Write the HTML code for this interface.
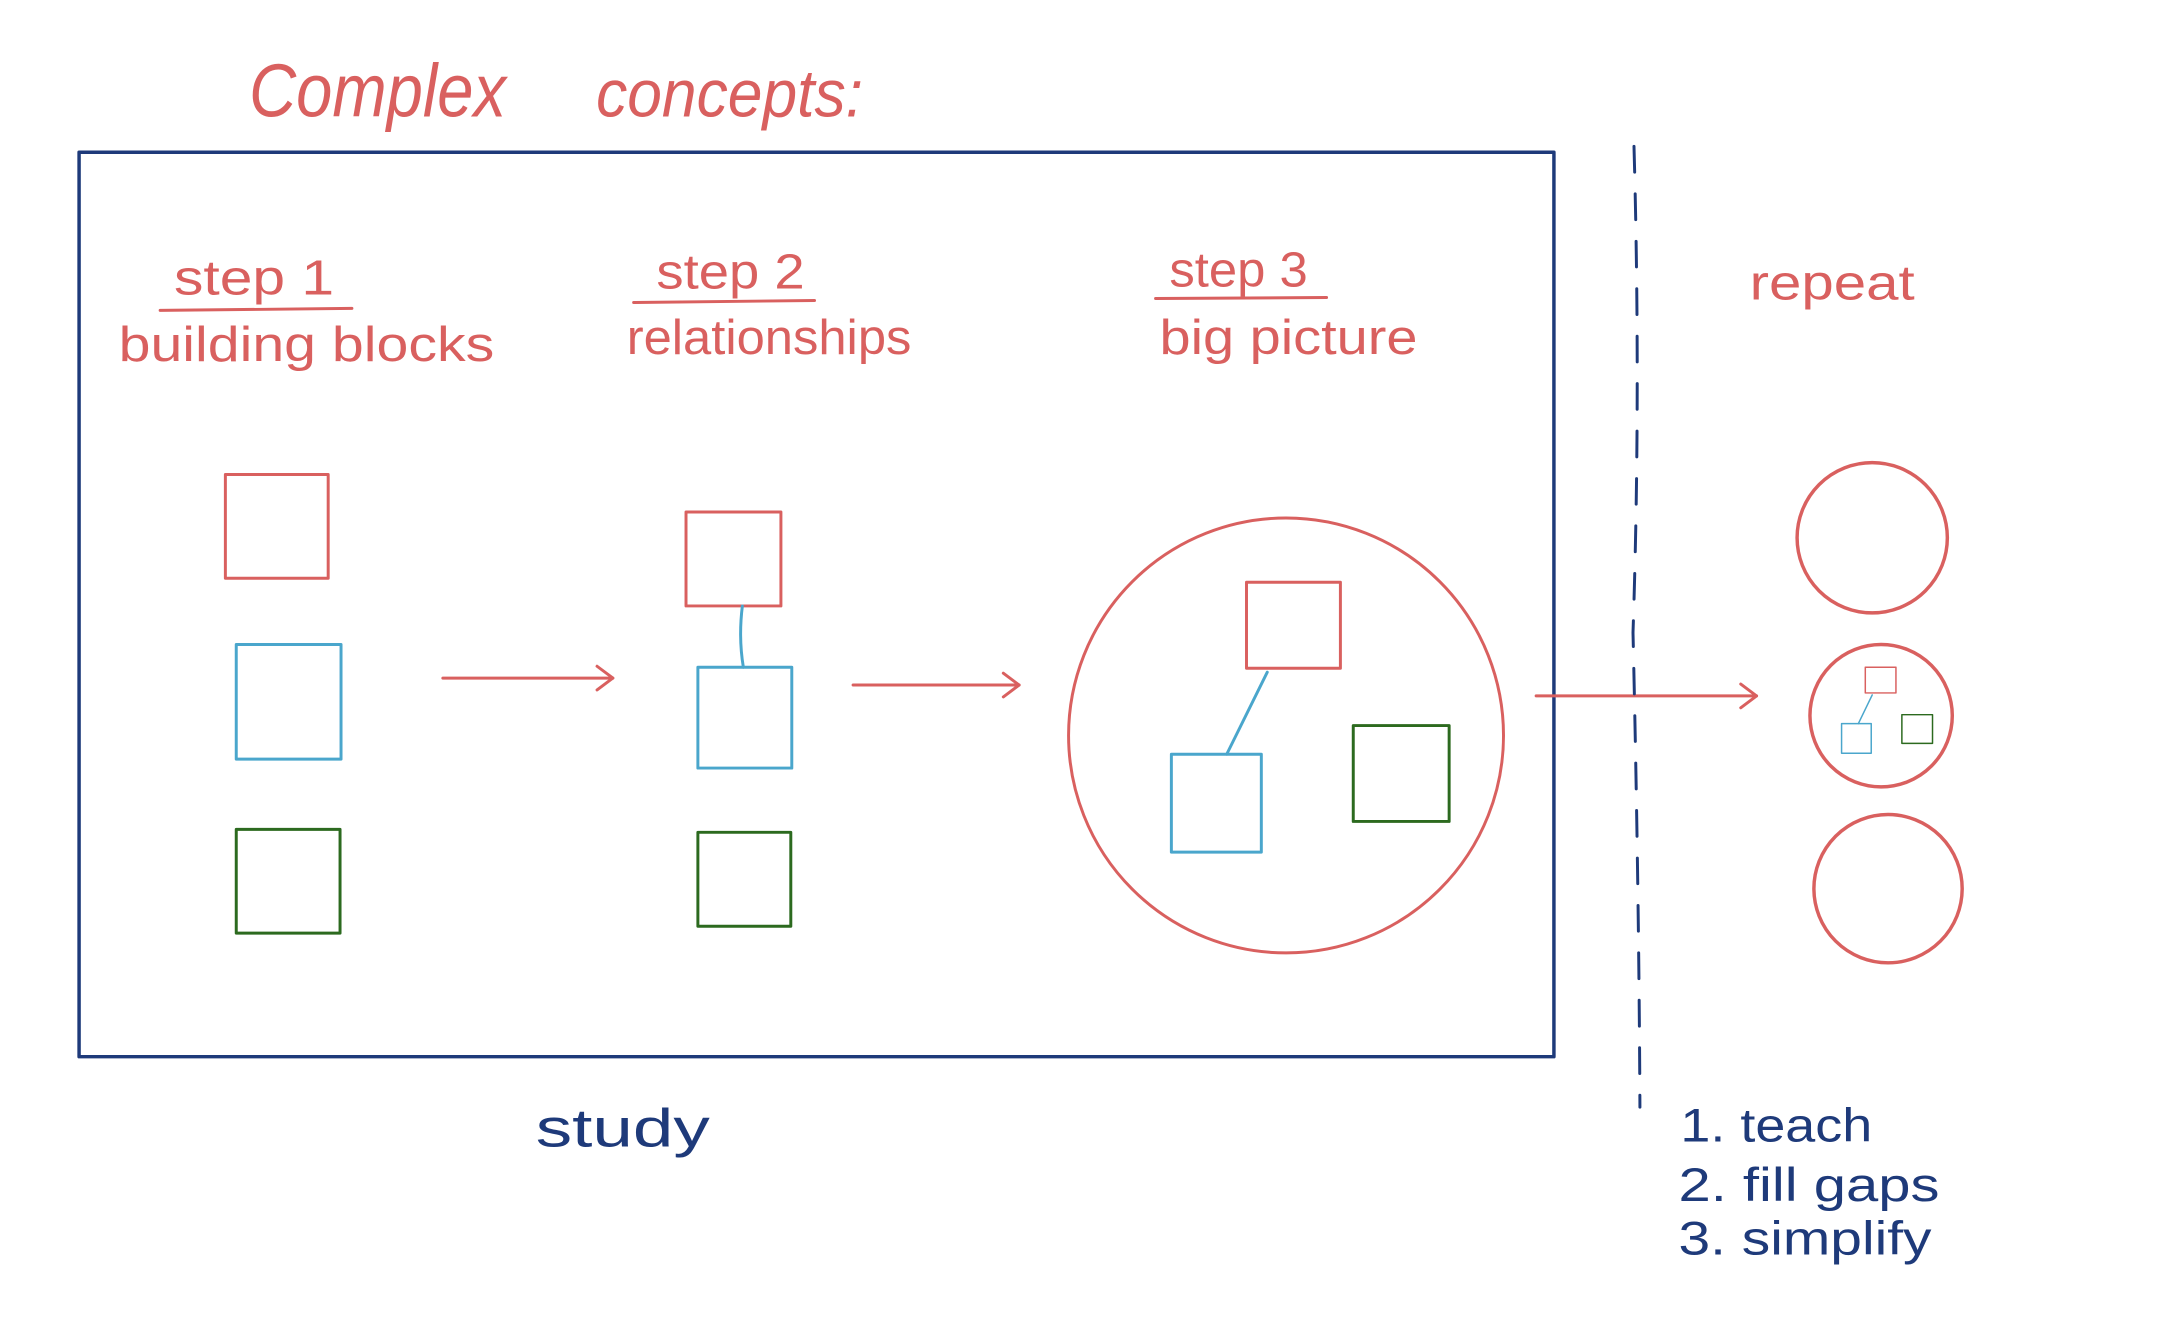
<!DOCTYPE html>
<html><head><meta charset="utf-8"><style>
html,body{margin:0;padding:0;background:#fff}
svg{display:block}
text{font-family:"Liberation Sans",sans-serif}
</style></head><body>
<svg width="2183" height="1331" viewBox="0 0 2183 1331" xmlns="http://www.w3.org/2000/svg">
<g transform="scale(0.9885)">
<g fill="none" stroke-linecap="round" stroke-linejoin="round">
<rect x="80" y="154" width="1492" height="915" stroke="#1e3a7a" stroke-width="3.5"/>
<g stroke="#d9605f" stroke-width="3">
<line x1="162" y1="314" x2="356" y2="312"/>
<line x1="641" y1="306" x2="824" y2="304"/>
<line x1="1169" y1="302" x2="1342" y2="301"/>
</g>
<rect x="228" y="480" width="104" height="105" stroke="#d9605f" stroke-width="3"/>
<rect x="239" y="652" width="106" height="116" stroke="#4aa6cc" stroke-width="3"/>
<rect x="239" y="839" width="105" height="105" stroke="#2c6a1f" stroke-width="3"/>
<g stroke="#d9605f" stroke-width="3">
<line x1="448" y1="686" x2="620" y2="686"/><polyline points="604,674 620,686 604,698"/>
<line x1="863" y1="693" x2="1031" y2="693"/><polyline points="1015,681 1031,693 1015,705"/>
<line x1="1554" y1="704" x2="1777" y2="704"/><polyline points="1761,692 1777,704 1761,716"/>
</g>
<rect x="694" y="518" width="96" height="95" stroke="#d9605f" stroke-width="3"/>
<path d="M751 613 Q747 645 752 675" stroke="#4aa6cc" stroke-width="3"/>
<rect x="706" y="675" width="95" height="102" stroke="#4aa6cc" stroke-width="3"/>
<rect x="706" y="842" width="94" height="95" stroke="#2c6a1f" stroke-width="3"/>
<circle cx="1301" cy="744" r="220" stroke="#d9605f" stroke-width="3"/>
<rect x="1261" y="589" width="95" height="87" stroke="#d9605f" stroke-width="3"/>
<line x1="1282" y1="680" x2="1241" y2="763" stroke="#4aa6cc" stroke-width="3"/>
<rect x="1185" y="763" width="91" height="99" stroke="#4aa6cc" stroke-width="3"/>
<rect x="1369" y="734" width="97" height="97" stroke="#2c6a1f" stroke-width="3"/>
<path d="M1653 148 Q1660 400 1652 640 Q1658 900 1659 1120" stroke="#1e3a7a" stroke-width="3" stroke-dasharray="26 22"/>
<circle cx="1894" cy="544" r="76" stroke="#d9605f" stroke-width="3.5"/>
<circle cx="1903" cy="724" r="72" stroke="#d9605f" stroke-width="3.5"/>
<circle cx="1910" cy="899" r="75" stroke="#d9605f" stroke-width="3.5"/>
<rect x="1887" y="675" width="31" height="26" stroke="#d9605f" stroke-width="1.5"/>
<line x1="1894" y1="703" x2="1880" y2="732" stroke="#4aa6cc" stroke-width="1.5"/>
<rect x="1863" y="732" width="30" height="30" stroke="#4aa6cc" stroke-width="1.5"/>
<rect x="1924" y="723" width="31" height="29" stroke="#2c6a1f" stroke-width="1.5"/>
</g>
<g fill="#d9605f">
<text x="252" y="118" font-size="76" font-style="italic" textLength="260" lengthAdjust="spacingAndGlyphs">Complex</text>
<text x="603" y="118" font-size="68" font-style="italic" textLength="270" lengthAdjust="spacingAndGlyphs">concepts:</text>
<text x="176" y="298" font-size="50" textLength="162" lengthAdjust="spacingAndGlyphs">step 1</text>
<text x="120" y="365" font-size="50" textLength="380" lengthAdjust="spacingAndGlyphs">building blocks</text>
<text x="664" y="292" font-size="50" textLength="150" lengthAdjust="spacingAndGlyphs">step 2</text>
<text x="634" y="358" font-size="50" textLength="288" lengthAdjust="spacingAndGlyphs">relationships</text>
<text x="1183" y="290" font-size="50" textLength="140" lengthAdjust="spacingAndGlyphs">step 3</text>
<text x="1173" y="358" font-size="50" textLength="261" lengthAdjust="spacingAndGlyphs">big picture</text>
<text x="1770" y="303" font-size="50" textLength="167" lengthAdjust="spacingAndGlyphs">repeat</text>
</g>
<g fill="#1e3a7a">
<text x="542" y="1160" font-size="54" textLength="176" lengthAdjust="spacingAndGlyphs">study</text>
<text x="1700" y="1155" font-size="48" textLength="194" lengthAdjust="spacingAndGlyphs">1. teach</text>
<text x="1698" y="1215" font-size="48" textLength="264" lengthAdjust="spacingAndGlyphs">2. fill gaps</text>
<text x="1698" y="1269" font-size="48" textLength="256" lengthAdjust="spacingAndGlyphs">3. simplify</text>
</g>
</g>
</svg>
</body></html>
